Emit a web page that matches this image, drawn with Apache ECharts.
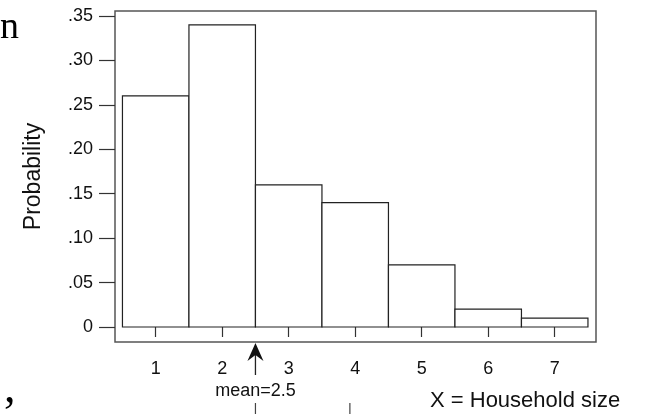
<!DOCTYPE html>
<html>
<head>
<meta charset="utf-8">
<script src="https://cdn.jsdelivr.net/npm/echarts@6/dist/echarts.min.js"></script>
<style>html,body{margin:0;padding:0;background:#fff;}#c{width:645px;height:414px;}</style>
</head>
<body>
<div id="c"></div>
<script>
// Data
var householdSizes = [1, 2, 3, 4, 5, 6, 7];
var probabilities = [0.26, 0.34, 0.16, 0.14, 0.07, 0.02, 0.01];
var xTickValues = [1, 2, 3, 4, 5, 6, 7];
var yTickValues = [0, 0.05, 0.10, 0.15, 0.20, 0.25, 0.30, 0.35];
var yTickLabels = ['0', '.05', '.10', '.15', '.20', '.25', '.30', '.35'];
var meanValue = 2.5;
var meanLabel = 'mean=2.5';
var xTitle = 'X = Household size';
var yTitle = 'Probability';

var FONT = '"Liberation Sans", Arial, Helvetica, sans-serif';
var SERIF = '"Liberation Serif", "DejaVu Serif", serif';
var chart = echarts.init(document.getElementById('c'), null, {renderer: 'canvas'});

var barData = householdSizes.map(function (x, i) { return [x, probabilities[i]]; });

chart.setOption({
  animation: false,
  backgroundColor: '#fff',
  grid: {
    left: 115, top: 11, right: 49, bottom: 72,
    show: true, borderColor: '#555', borderWidth: 1.5, backgroundColor: 'transparent'
  },
  xAxis: {
    type: 'value',
    min: 0.388, max: 7.621,
    axisLine: {show: false},
    splitLine: {show: false},
    axisTick: {show: true, customValues: xTickValues, length: 10, lineStyle: {color: '#333', width: 1.2}},
    axisLabel: {customValues: xTickValues, margin: 18, fontFamily: FONT, fontSize: 18, color: '#111'}
  },
  yAxis: {
    type: 'value',
    min: -0.0169, max: 0.3556,
    axisLine: {show: false},
    splitLine: {show: false},
    axisTick: {show: true, customValues: yTickValues, length: 16, lineStyle: {color: '#333', width: 1.2}},
    axisLabel: {
      customValues: yTickValues, margin: 22, fontFamily: FONT, fontSize: 18, color: '#111',
      formatter: function (v) {
        for (var i = 0; i < yTickValues.length; i++) {
          if (Math.abs(yTickValues[i] - v) < 1e-9) return yTickLabels[i];
        }
        return '';
      }
    },
    name: yTitle,
    nameLocation: 'middle',
    nameRotate: 90,
    nameGap: 70,
    nameTextStyle: {fontFamily: FONT, fontSize: 23, color: '#111'}
  },
  series: [{
    type: 'custom',
    data: barData,
    clip: false,
    renderItem: function (params, api) {
      var x = api.value(0), p = api.value(1);
      var tl = api.coord([x - 0.5, p]);
      var br = api.coord([x + 0.5, 0]);
      return {
        type: 'rect',
        shape: {x: tl[0], y: tl[1], width: br[0] - tl[0], height: br[1] - tl[1]},
        style: {fill: '#fff', stroke: '#222', lineWidth: 1.2}
      };
    }
  }]
});

// Mean arrow and annotation text placed from the axis scale
var mx = chart.convertToPixel({xAxisIndex: 0}, meanValue);
var yBottom = chart.convertToPixel({yAxisIndex: 0}, -0.0169);
var mx2 = chart.convertToPixel({xAxisIndex: 0}, 3.92);

chart.setOption({
  graphic: [
    {type: 'polygon', shape: {points: [[mx, yBottom + 1], [mx - 8, yBottom + 19], [mx, yBottom + 13], [mx + 8, yBottom + 19]]},
     style: {fill: '#111'}},
    {type: 'line', shape: {x1: mx, y1: yBottom + 13, x2: mx, y2: yBottom + 33}, style: {stroke: '#222', lineWidth: 1.3}},
    {type: 'text', x: mx, y: yBottom + 49, style: {text: meanLabel, fontFamily: FONT, fontSize: 18, fill: '#111', textAlign: 'center', textVerticalAlign: 'middle'}},
    {type: 'text', x: 430, y: 401, style: {text: xTitle, fontFamily: FONT, fontSize: 22, fill: '#111', textAlign: 'left', textVerticalAlign: 'middle'}},
    // stray marks from the scanned page
    {type: 'line', shape: {x1: mx, y1: 403, x2: mx, y2: 414}, style: {stroke: '#444', lineWidth: 1.2}},
    {type: 'line', shape: {x1: mx2, y1: 403, x2: mx2, y2: 414}, style: {stroke: '#444', lineWidth: 1.2}},
    {type: 'text', x: 19, y: 28, style: {text: 'n', fontFamily: SERIF, fontSize: 38, fill: '#000', textAlign: 'right', textVerticalAlign: 'middle'}},
    {type: 'text', x: 4, y: 390, style: {text: ',', fontFamily: SERIF, fontSize: 46, fill: '#000', textAlign: 'left', textVerticalAlign: 'middle'}}
  ]
});
</script>
</body>
</html>
